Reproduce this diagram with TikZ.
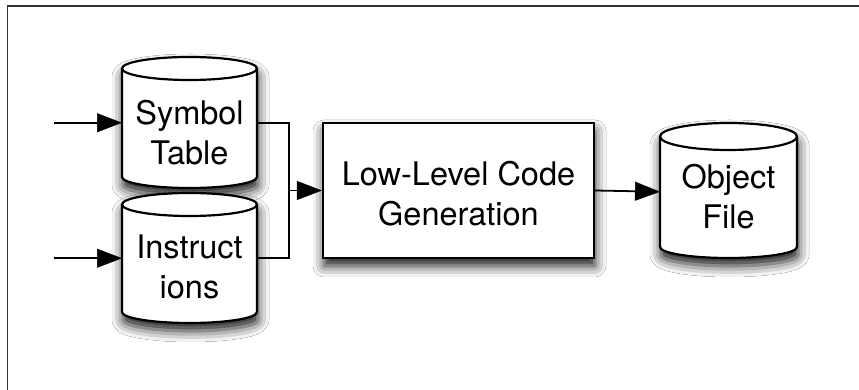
\documentclass[tikz,border=0pt]{standalone}
\usepackage{fontspec}
\setmainfont{TeX Gyre Heros}
\usetikzlibrary{arrows.meta,shadows.blur}

\tikzset{
  body/.style={draw=none, inner sep=0pt, outer sep=0pt},
  label/.style={align=center, inner sep=0pt, font=\fontsize{32.5}{40}\selectfont},
  edge/.style={line width=2.2pt, line join=miter},
  link/.style={line width=1.8pt, line join=miter},
  flow/.style={link, -{Triangle[length=25pt, width=19pt, fill=black, line width=0.5pt]}},
  drop/.style={blur shadow={shadow xshift=1pt, shadow yshift=-8pt,
      shadow blur radius=11pt, shadow opacity=90}},
}

% Drum outline round a body node: #1 node name, #2 half width, #3 top radius, #4 bottom radius
\newcommand\drum[4]{%
  \path[drop, fill=white]
    (#1.north west) -- (#1.south west)
    arc[start angle=180, end angle=360, x radius=#2, y radius=#4]
    -- (#1.north east)
    arc[start angle=0, end angle=180, x radius=#2, y radius=#3] -- cycle;
  \draw[edge, fill=white]
    (#1.north west) -- (#1.south west)
    arc[start angle=180, end angle=360, x radius=#2, y radius=#4]
    -- (#1.north east)
    arc[start angle=0, end angle=180, x radius=#2, y radius=#3] -- cycle;
  \draw[edge] (#1.north west)
    arc[start angle=180, end angle=360, x radius=#2, y radius=#3];
}

\begin{document}
\begin{tikzpicture}[x=1pt, y=1pt]
  \useasboundingbox (0,0) rectangle (859,390);
  \fill[white] (0,0) rectangle (859,390);

  % frame
  \draw[black!80, line width=1.6pt] (7.5,0) -- (7.5,384) -- (859,384);

  % body nodes (top and bottom ellipse centres as north/south)
  \node[body, minimum width=135pt, minimum height=108.5pt] (sym) at (189.5,267.25) {};
  \node[body, minimum width=135pt, minimum height=107.5pt] (ins) at (189.5,131.75) {};
  \node[body, minimum width=137pt, minimum height=110.5pt] (obj) at (728.5,198.25) {};

  \drum{sym}{67.5}{11.5}{11}
  \drum{ins}{67.5}{11.5}{11}
  \drum{obj}{68.5}{13.5}{11}

  % code generation box
  \node[draw, edge, fill=white, drop, minimum width=271pt, minimum height=135pt,
        inner sep=0pt] (gen) at (458.5,199.5) {};

  % texts
  \node[label] (symtxt) at (189.5,257) {Symbol\\Table};
  \node[label] (instxt) at (189.5,123) {Instruct\\ions};
  \node[label] (objtxt) at (728.5,193.5) {Object\\File};
  \node[label] (gentxt) at (458.5,196) {Low-Level Code\\Generation};

  % connectors
  \coordinate (in1) at (54,267.25);
  \coordinate (in2) at (54,131.75);
  \coordinate (join) at (289,199.5);
  \draw[flow] (in1) -- (sym.west);
  \draw[flow] (in2) -- (ins.west);
  \draw[link] (sym.east) -| (join) |- (ins.east);
  \draw[flow] (join) -- (gen.west);
  \draw[flow] (gen.east) -- (obj.west);
\end{tikzpicture}
\end{document}
